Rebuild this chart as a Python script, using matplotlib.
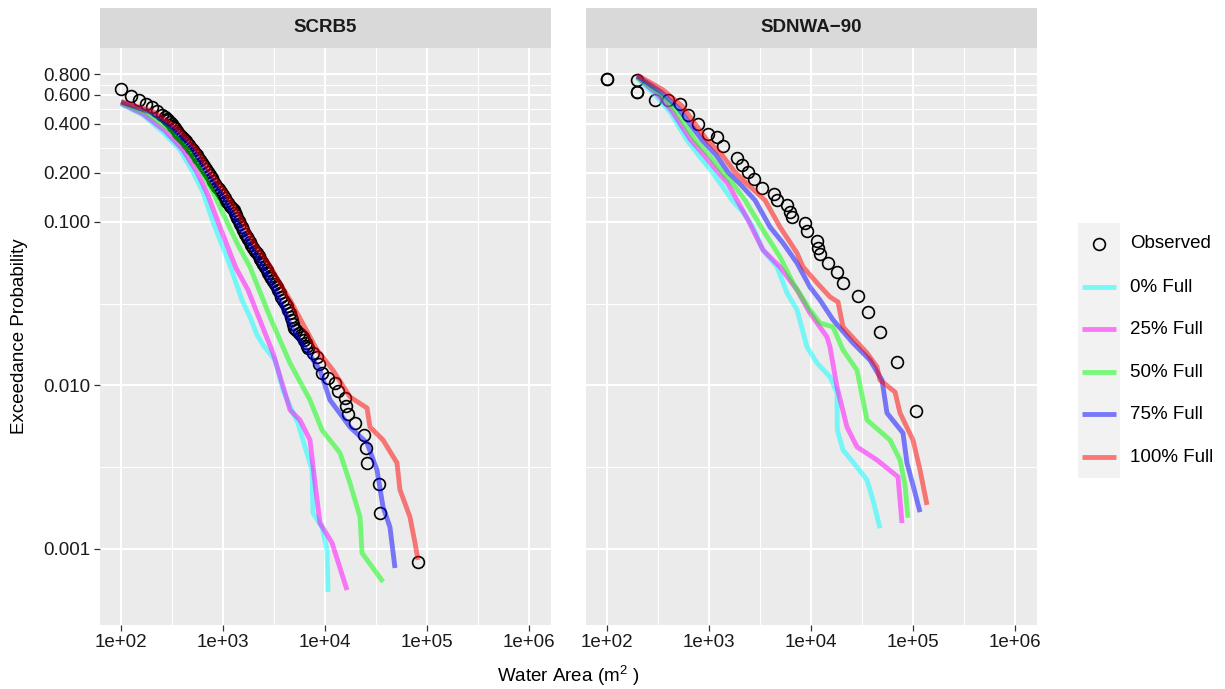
import matplotlib
matplotlib.use("Agg")
import matplotlib.pyplot as plt
from matplotlib.lines import Line2D
from matplotlib.patches import Rectangle
from matplotlib.ticker import FixedLocator, FixedFormatter, NullFormatter

plt.rcParams['font.family'] = ['Liberation Sans', 'DejaVu Sans']
plt.rcParams['mathtext.fontset'] = 'custom'
plt.rcParams['mathtext.rm'] = 'Liberation Sans'

panels = ["SCRB5", "SDNWA\u221290"]
series = ["0% Full", "25% Full", "50% Full", "75% Full", "100% Full"]
series_colors = ["cyan", "magenta", "lime", "blue", "red"]

x_ticks = [1e2, 1e3, 1e4, 1e5, 1e6]
x_tick_labels = ["1e+02", "1e+03", "1e+04", "1e+05", "1e+06"]
y_ticks = [0.001, 0.01, 0.1, 0.2, 0.4, 0.6, 0.8]
y_tick_labels = ["0.001", "0.010", "0.100", "0.200", "0.400", "0.600", "0.800"]

# SCRB5 observed (dense band read along its centre)
scrb5_obs_area = [100, 125, 150, 176, 201, 225,
                  252, 267, 283, 292, 302, 313, 324, 339, 354, 366,
                  379, 397, 415, 429, 444, 465, 486, 508, 531, 550,
                  569, 595, 622, 651, 681, 713, 746, 772, 798, 835,
                  873, 914, 956, 1000, 1047, 1082, 1119, 1171, 1225, 1268,
                  1312, 1342, 1372, 1420, 1469, 1519, 1571, 1643, 1718, 1778,
                  1840, 1903, 1968, 2060, 2154, 2229, 2306, 2385, 2466, 2580,
                  2698, 2793, 2891, 2989, 3090, 3232, 3381, 3499, 3622, 3745,
                  3873, 4051, 4237, 4385, 4539, 4639, 4742, 4853, 4966, 5254,
                  5559, 5814, 6081, 6295, 6516, 6660, 6808,
                  7621, 8356, 8730, 9351, 10700, 12530, 13410, 15710, 16070, 16800,
                  19680, 24110, 25500, 25820, 33810, 34600, 81650]
scrb5_obs_prob = [0.650, 0.590, 0.557, 0.527, 0.505, 0.477,
                  0.451, 0.439, 0.427, 0.418, 0.409, 0.397, 0.386, 0.373, 0.361, 0.351,
                  0.341, 0.331, 0.322, 0.313, 0.304, 0.294, 0.284, 0.274, 0.264, 0.255,
                  0.246, 0.238, 0.230, 0.220, 0.211, 0.202, 0.194, 0.186, 0.178, 0.171,
                  0.164, 0.158, 0.152, 0.146, 0.140, 0.135, 0.131, 0.126, 0.122, 0.118,
                  0.114, 0.110, 0.106, 0.1016, 0.0973, 0.0932, 0.0893, 0.0850, 0.0809, 0.0782,
                  0.0755, 0.0723, 0.0693, 0.0669, 0.0646, 0.0619, 0.0594, 0.0573, 0.0553, 0.0530,
                  0.0508, 0.0488, 0.0468, 0.0452, 0.0436, 0.0418, 0.0400, 0.0384, 0.0368, 0.0350,
                  0.0333, 0.0319, 0.0306, 0.0291, 0.0277, 0.0264, 0.0252, 0.0238, 0.0225, 0.0217,
                  0.0209, 0.0203, 0.0198, 0.0190, 0.0182, 0.0175, 0.0169,
                  0.0158, 0.0149, 0.0135, 0.0119, 0.0111, 0.0103, 0.00925, 0.00840, 0.00750, 0.00670,
                  0.00590, 0.00498, 0.00415, 0.00336, 0.00250, 0.00166, 0.00083]

# SCRB5 simulated
scrb5_area_0 = [100, 164, 258, 379, 508, 637, 798, 935, 1119, 1312, 1535, 1840, 2154, 2466, 3236,
                3873, 4853, 5433, 6368, 7460, 7621, 9351, 10470, 10700]
scrb5_prob_0 = [0.527, 0.451, 0.355, 0.276, 0.202, 0.152, 0.100, 0.0776, 0.0586, 0.0442, 0.0333,
                0.0262, 0.0204, 0.0177, 0.0143, 0.00938, 0.00679, 0.00590, 0.00421, 0.00304,
                0.00166, 0.00136, 0.000986, 0.000546]
scrb5_area_25 = [100, 164, 270, 405, 556, 713, 893, 1094, 1341, 1758, 2359, 3090, 4055, 4539, 5686,
                 7126, 7980, 8933, 11720, 16440]
scrb5_prob_25 = [0.531, 0.458, 0.361, 0.276, 0.202, 0.146, 0.100, 0.0723, 0.0523, 0.0384, 0.0241,
                 0.0158, 0.00900, 0.00708, 0.00615, 0.00464, 0.00253, 0.00144, 0.00109, 0.000561]
scrb5_area_50 = [100, 180, 302, 454, 622, 798, 1094, 1403, 1840, 2306, 2891, 4539, 7126, 9351,
                 14030, 17580, 22040, 23070, 37060]
scrb5_prob_50 = [0.535, 0.464, 0.365, 0.276, 0.202, 0.152, 0.100, 0.0723, 0.0531, 0.0373, 0.0262,
                 0.0137, 0.00815, 0.00534, 0.00387, 0.00253, 0.00157, 0.000946, 0.000629]
scrb5_area_75 = [100, 192, 324, 497, 697, 935, 1372, 1840, 2306, 3236, 4853, 8933, 11190, 17580,
                 25820, 32360, 37060, 43350, 48560]
scrb5_prob_75 = [0.542, 0.471, 0.376, 0.284, 0.202, 0.152, 0.100, 0.0723, 0.0569, 0.0384, 0.0218,
                 0.0124, 0.00815, 0.00557, 0.00445, 0.00304, 0.00181, 0.00136, 0.000765]
scrb5_area_100 = [100, 206, 354, 556, 746, 1047, 1571, 2061, 2761, 4539, 8356, 11970, 17580, 25820,
                  27610, 37060, 50820, 54330, 68080, 76290, 81650]
scrb5_prob_100 = [0.546, 0.474, 0.376, 0.276, 0.202, 0.152, 0.100, 0.0723, 0.0561, 0.0333, 0.0165,
                  0.0124, 0.00851, 0.00728, 0.00557, 0.00464, 0.00336, 0.00230, 0.00157, 0.00109,
                  0.000857]

# SDNWA-90 observed
sdnwa_obs_area = [100, 100, 197, 197, 197, 296, 396, 520, 622, 780, 977, 1197, 1372, 1884, 2109,
                  2412, 2761, 3310, 4339, 4642, 5818, 6223, 6516, 8730, 9141, 11460, 11720, 12250,
                  14680, 17990, 20600, 28910, 36220, 47460, 69640, 107000]
sdnwa_obs_prob = [0.75, 0.75, 0.74, 0.624, 0.624, 0.56, 0.555, 0.527, 0.451, 0.397, 0.345, 0.331,
                  0.292, 0.246, 0.223, 0.202, 0.183, 0.161, 0.148, 0.136, 0.127, 0.115, 0.107,
                  0.0986, 0.0881, 0.0766, 0.0693, 0.0637, 0.0561, 0.0494, 0.0424, 0.0352, 0.0282,
                  0.0212, 0.0139, 0.00698]

# SDNWA-90 simulated
sdnwa_area_0 = [197, 296, 415, 608, 816, 1094, 1435, 1679, 2154, 2698, 3381, 4642, 5818, 7290, 9141,
                11460, 15350, 17990, 18100, 20600, 28250, 35400, 40550, 47460]
sdnwa_prob_0 = [0.760, 0.598, 0.471, 0.317, 0.250, 0.1995, 0.157, 0.136, 0.115, 0.0932, 0.0674,
                0.0531, 0.0368, 0.0290, 0.0172, 0.0137, 0.0113, 0.00900, 0.00534, 0.00403,
                0.00317, 0.00264, 0.00199, 0.00134]
sdnwa_area_25 = [197, 309, 434, 651, 893, 1225, 1535, 1884, 2412, 3381, 4966, 7290, 9773, 14350,
                 15350, 17990, 22540, 28250, 44370, 71310, 74630, 78000]
sdnwa_prob_25 = [0.771, 0.607, 0.477, 0.322, 0.257, 0.202, 0.171, 0.136, 0.1029, 0.0674, 0.0531,
                 0.0384, 0.0277, 0.0198, 0.0172, 0.00979, 0.00557, 0.00421, 0.00350, 0.00276,
                 0.00199, 0.00144]
sdnwa_area_50 = [197, 324, 464, 729, 1000, 1372, 1718, 2255, 3381, 4966, 6668, 9773, 12250, 16440,
                 20600, 28250, 35400, 59530, 74630, 83570, 89300]
sdnwa_prob_50 = [0.771, 0.615, 0.484, 0.317, 0.257, 0.1995, 0.171, 0.136, 0.0893, 0.0611, 0.0424,
                 0.0290, 0.0241, 0.0228, 0.0165, 0.0124, 0.00615, 0.00464, 0.00350, 0.00246, 0.00155]
sdnwa_area_75 = [197, 338, 497, 854, 1172, 1535, 2014, 2823, 3962, 5309, 7290, 9773, 12250, 16440,
                 25820, 37870, 49660, 55590, 79800, 87300, 100000, 117200]
sdnwa_prob_75 = [0.782, 0.624, 0.498, 0.317, 0.257, 0.202, 0.171, 0.136, 0.0932, 0.0744, 0.0561,
                 0.0400, 0.0333, 0.0252, 0.0182, 0.0143, 0.0108, 0.00679, 0.00512, 0.00336,
                 0.00246, 0.00168]
sdnwa_area_100 = [197, 354, 543, 956, 1341, 1798, 2359, 3540, 4966, 7290, 8356, 11460, 15350, 18410,
                  20600, 35400, 44370, 47460, 66680, 74630, 100000, 117200, 137200]
sdnwa_prob_100 = [0.793, 0.642, 0.512, 0.317, 0.257, 0.202, 0.171, 0.136, 0.0932, 0.0646, 0.0531,
                  0.0424, 0.0348, 0.0324, 0.0228, 0.0158, 0.0130, 0.0108, 0.00912, 0.00679,
                  0.00464, 0.00304, 0.00186]

observed = [(scrb5_obs_area, scrb5_obs_prob), (sdnwa_obs_area, sdnwa_obs_prob)]
simulated = [
    [(scrb5_area_0, scrb5_prob_0), (scrb5_area_25, scrb5_prob_25), (scrb5_area_50, scrb5_prob_50),
     (scrb5_area_75, scrb5_prob_75), (scrb5_area_100, scrb5_prob_100)],
    [(sdnwa_area_0, sdnwa_prob_0), (sdnwa_area_25, sdnwa_prob_25), (sdnwa_area_50, sdnwa_prob_50),
     (sdnwa_area_75, sdnwa_prob_75), (sdnwa_area_100, sdnwa_prob_100)],
]

W, H = 1225, 689
LINE_W = 3.5
def fx(px): return px / W
def fy(py): return 1 - py / H

fig = plt.figure(figsize=(W / 100, H / 100), dpi=100)
panel_left = [100, 586]
panel_top, panel_bottom, panel_w = 48, 625, 451

for i, name in enumerate(panels):
    ax = fig.add_axes([fx(panel_left[i]), fy(panel_bottom), panel_w / W, (panel_bottom - panel_top) / H])
    ax.set_facecolor('#EBEBEB')
    ax.set_xscale('log')
    ax.set_yscale('log')
    ax.set_xlim(10 ** 1.794, 10 ** 6.216)
    ax.set_ylim(10 ** -3.465, 10 ** 0.064)

    ax.xaxis.set_major_locator(FixedLocator(x_ticks))
    ax.xaxis.set_major_formatter(FixedFormatter(x_tick_labels))
    ax.xaxis.set_minor_locator(FixedLocator([10 ** 2.5, 10 ** 3.5, 10 ** 4.5, 10 ** 5.5]))
    ax.xaxis.set_minor_formatter(NullFormatter())
    ax.yaxis.set_major_locator(FixedLocator(y_ticks))
    ax.yaxis.set_major_formatter(FixedFormatter(y_tick_labels))
    y_minor = [(y_ticks[k] * y_ticks[k + 1]) ** 0.5 for k in range(len(y_ticks) - 1)]
    ax.yaxis.set_minor_locator(FixedLocator(y_minor))
    ax.yaxis.set_minor_formatter(NullFormatter())

    ax.grid(which='major', color='white', lw=1.5)
    ax.grid(which='minor', color='white', lw=0.75)
    ax.set_axisbelow(True)
    for s in ax.spines.values():
        s.set_visible(False)
    ax.tick_params(which='minor', length=0)
    ax.tick_params(which='major', length=4.2, width=0.9, color='#333333',
                   labelsize=13.5, labelcolor='#1a1a1a', pad=2.5)
    if i == 1:
        ax.tick_params(axis='y', left=False, labelleft=False)

    obs_x, obs_y = observed[i]
    ax.plot(obs_x, obs_y, ls='none', marker='o', ms=8.5, mfc='none', mec='black', mew=1.2, zorder=2)
    for (sx, sy), col in zip(simulated[i], series_colors):
        ax.plot(sx, sy, color=col, alpha=0.5, lw=LINE_W, solid_capstyle='butt', zorder=3)

    # strip on top of the panel
    strip = fig.add_axes([fx(panel_left[i]), fy(panel_top), panel_w / W, 40 / H])
    strip.set_facecolor('#D9D9D9')
    strip.set_xticks([])
    strip.set_yticks([])
    for s in strip.spines.values():
        s.set_visible(False)
    strip.text(0.5, 0.5, name, ha='center', va='center', fontsize=13.5,
               fontweight='bold', color='#1a1a1a', transform=strip.transAxes)

fig.text(fx(20), fy(336), "Exceedance Probability", rotation=90, ha='center', va='center',
         fontsize=13.5, color='black')
fig.text(fx(568), fy(676), r"Water Area (m$^2$ )", ha='center', va='center',
         fontsize=13.5, color='black')

# legend drawn by hand
legend_y = [244, 287, 329, 372, 414, 457]
fig.add_artist(Rectangle((fx(1078), fy(478)), 42 / W, 255 / H, transform=fig.transFigure,
                         facecolor='#F2F2F2', edgecolor='none'))
fig.add_artist(Line2D([fx(1099)], [fy(legend_y[0])], transform=fig.transFigure, ls='none',
                      marker='o', ms=8.5, mfc='none', mec='black', mew=1.2))
fig.text(fx(1130), fy(legend_y[0]), "Observed", ha='left', va='center', fontsize=13.5)
for ly, col, lab in zip(legend_y[1:], series_colors, series):
    fig.add_artist(Line2D([fx(1082), fx(1116)], [fy(ly), fy(ly)], transform=fig.transFigure,
                          color=col, alpha=0.5, lw=LINE_W, solid_capstyle='butt'))
    fig.text(fx(1130), fy(ly), lab, ha='left', va='center', fontsize=13.5)

fig.savefig("out.png", dpi=100)
